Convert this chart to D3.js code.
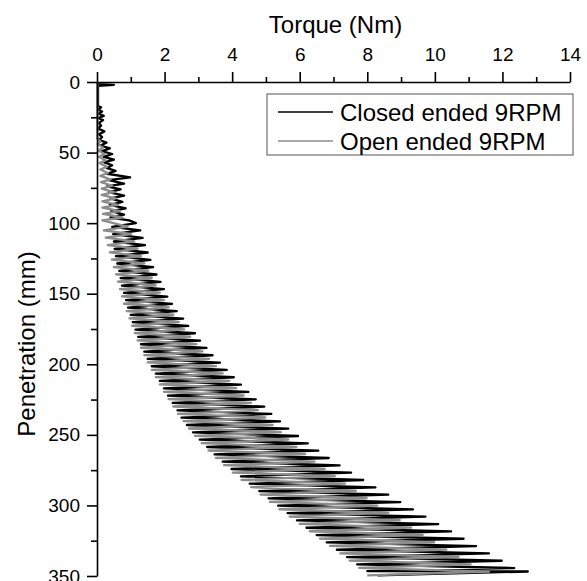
<!DOCTYPE html>
<html>
<head>
<meta charset="utf-8">
<script src="https://cdnjs.cloudflare.com/ajax/libs/d3/7.8.5/d3.min.js"></script>
<style>
  body { margin: 0; background: #fff; }
  svg text { font-family: "Liberation Sans", Arial, sans-serif; fill: #000; }
</style>
</head>
<body>
<div id="chart"></div>
<script>
// [penetration (mm), torque (Nm)]
const closedPts = [
  [0,0.02],[1.5,0.02],[2,0.5],[2.8,0.03],[17,0.03],[18,0.12],[19.5,0.03],[21,0.15],[22.5,0.05],[24,0.2],
  [25.5,0.04],[27,0.18],[29,0.06],[31,0.12],[33,0.03],[35,0.22],[37,0.06],[39,0.15],[41,0.05],[43,0.28],
  [45,0.1],[47,0.38],[49,0.15],[51,0.45],[53,0.2],[55,0.5],[57,0.22],[59,0.45],[61,0.3],[63,0.55],
  [65,0.3],[67.5,0.98],[69.5,0.35],[72,0.8],[74,0.3],[76,0.7],[78,0.35],[80.5,0.8],[82.5,0.4],[85,0.75],
  [87,0.38],[89.5,0.85],[91.5,0.42],[94,0.8],[96,0.4],[98,0.95],
  [100.0,1.15],[102.6,0.45],[105.2,1.28],[107.8,0.48],[110.4,1.35],[113.0,0.5],[115.6,1.42],[118.2,0.52],
  [120.8,1.5],[123.4,0.56],[126.0,1.58],[128.6,0.6],[131.2,1.66],[133.8,0.66],[136.4,1.76],[139.0,0.7],
  [141.6,1.88],[144.2,0.74],[146.8,1.98],[149.4,0.8],[152.0,2.08],[154.6,0.86],[157.2,2.22],[159.8,0.92],
  [162.4,2.36],[165.0,1.0],[167.6,2.55],[170.2,1.06],[172.8,2.7],[175.4,1.14],[178.0,2.9],[180.6,1.22],
  [183.2,3.05],[185.8,1.3],[188.4,3.24],[191.0,1.4],[193.6,3.42],[196.2,1.5],[198.8,3.64],[201.4,1.62],
  [204.0,3.84],[206.6,1.74],[209.2,4.05],[211.8,1.86],[214.4,4.26],[217.0,1.98],[219.6,4.48],[222.2,2.1],
  [224.8,4.7],[227.4,2.24],[230.0,4.95],[232.6,2.38],[235.2,5.16],[237.8,2.5],[240.4,5.42],[243.0,2.66],
  [245.6,5.66],[248.2,2.84],[250.8,5.95],[253.4,3.04],[256.0,6.24],[258.6,3.26],[261.2,6.55],[263.8,3.48],
  [266.4,6.86],[269.0,3.72],[271.6,7.18],[274.2,3.98],[276.8,7.52],[279.4,4.26],[282.0,7.88],[284.6,4.52],
  [287.2,8.24],[289.8,4.8],[292.4,8.62],[295.0,5.08],[297.6,8.98],[300.2,5.36],[302.8,9.35],[305.4,5.64],
  [308.0,9.72],[310.6,5.92],[313.2,10.1],[315.8,6.2],[318.4,10.48],[321.0,6.5],[323.6,10.85],[326.2,6.8],
  [328.8,11.22],[331.4,7.1],[334.0,11.6],[336.6,7.4],[339.2,11.98],[341.8,7.7],[344.4,12.35],[346.5,8.0],
  [346.8,12.75],[349.5,8.3]
];

const openPts = [
  [0,0.01],[40,0.01],[42,0.1],[44,0.02],[46.5,0.18],[48.5,0.04],[51,0.22],[53,0.06],[55.5,0.25],[57.5,0.08],
  [60,0.3],[62,0.1],[64.5,0.32],[66.5,0.1],[69,0.4],[71,0.12],[73.5,0.45],[75.5,0.14],[78,0.5],[80,0.14],
  [82.5,0.55],[84.5,0.16],[87,0.62],[89,0.16],[91.5,0.68],[93.5,0.18],[96,0.75],[98,0.16],
  [102.5,0.9],[105.1,0.2],[107.7,1.0],[110.3,0.26],[112.9,1.1],[115.5,0.32],[118.1,1.2],[120.7,0.38],
  [123.3,1.3],[125.9,0.44],[128.5,1.4],[131.1,0.5],[133.7,1.52],[136.3,0.56],[138.9,1.62],[141.5,0.62],
  [144.1,1.74],[146.7,0.68],[149.3,1.86],[151.9,0.74],[154.5,1.98],[157.1,0.8],[159.7,2.12],[162.3,0.88],
  [164.9,2.26],[167.5,0.96],[170.1,2.42],[172.7,1.04],[175.3,2.58],[177.9,1.12],[180.5,2.76],[183.1,1.2],
  [185.7,2.94],[188.3,1.3],[190.9,3.12],[193.5,1.4],[196.1,3.32],[198.7,1.5],[201.3,3.52],[203.9,1.62],
  [206.5,3.72],[209.1,1.74],[211.7,3.92],[214.3,1.86],[216.9,4.12],[219.5,1.98],[222.1,4.34],[224.7,2.12],
  [227.3,4.56],[229.9,2.26],[232.5,4.76],[235.1,2.4],[237.7,4.98],[240.3,2.56],[242.9,5.2],[245.5,2.72],
  [248.1,5.44],[250.7,2.9],[253.3,5.66],[255.9,3.1],[258.5,5.9],[261.1,3.3],[263.7,6.16],[266.3,3.52],
  [268.9,6.44],[271.5,3.76],[274.1,6.74],[276.7,4.02],[279.3,7.04],[281.9,4.28],[284.5,7.34],[287.1,4.56],
  [289.7,7.66],[292.3,4.84],[294.9,7.98],[297.5,5.12],[300.1,8.3],[302.7,5.4],[305.3,8.62],[307.9,5.7],
  [310.5,8.96],[313.1,6.0],[315.7,9.3],[318.3,6.3],[320.9,9.64],[323.5,6.6],[326.1,9.98],[328.7,6.9],
  [331.3,10.34],[333.9,7.2],[336.5,10.7],[339.1,7.48],[341.7,11.06],[344.3,7.76],[346.9,11.6],[349.5,8.0]
];

const xMajor = [0, 2, 4, 6, 8, 10, 12, 14];
const xMinor = [1, 3, 5, 7, 9, 11, 13];
const yMajor = [0, 50, 100, 150, 200, 250, 300, 350];
const yMinor = [25, 75, 125, 175, 225, 275, 325];
const seriesNames = ["Closed ended 9RPM", "Open ended 9RPM"];
const seriesColors = ["#000000", "#8c8c8c"];

const W = 587, H = 581;
const plotLeft = 97, plotRight = 570, plotTop = 82, plotBottom = 576;

const svg = d3.select("#chart").append("svg")
  .attr("width", W)
  .attr("height", H);

const x = d3.scaleLinear().domain([0, 14]).range([plotLeft, plotRight]);
const y = d3.scaleLinear().domain([0, 350]).range([plotTop, plotBottom]);

const line = d3.line()
  .x(d => x(d[1]))
  .y(d => y(d[0]));

// closed first, open drawn on top
[closedPts, openPts].forEach((pts, i) => {
  svg.append("path")
    .datum(pts)
    .attr("fill", "none")
    .attr("stroke", seriesColors[i])
    .attr("stroke-width", 2.3)
    .attr("stroke-linejoin", "round")
    .attr("d", line);
});

// top axis
const gx = svg.append("g").attr("transform", `translate(0,${plotTop})`);
gx.call(d3.axisTop(x).tickValues(xMajor).tickSize(10).tickSizeOuter(0).tickPadding(11).tickFormat(d3.format("d")));
gx.append("g").call(d3.axisTop(x).tickValues(xMinor).tickSize(5).tickFormat(""))
  .select(".domain").remove();
gx.selectAll("text").attr("font-size", 19).attr("fill", "#000");

// left axis
const gy = svg.append("g").attr("transform", `translate(${plotLeft},0)`);
gy.call(d3.axisLeft(y).tickValues(yMajor).tickSize(10).tickSizeOuter(0).tickPadding(7).tickFormat(d3.format("d")));
gy.append("g").call(d3.axisLeft(y).tickValues(yMinor).tickSize(6).tickFormat(""))
  .select(".domain").remove();
gy.selectAll("text").attr("font-size", 19).attr("fill", "#000");

svg.selectAll(".domain, .tick line").attr("stroke", "#000").attr("stroke-width", 1.6);

// axis titles
svg.append("text")
  .attr("x", (plotLeft + plotRight) / 2 + 2)
  .attr("y", 33)
  .attr("text-anchor", "middle")
  .attr("font-size", 24)
  .text("Torque (Nm)");

svg.append("text")
  .attr("transform", "rotate(-90)")
  .attr("x", -344)
  .attr("y", 35)
  .attr("text-anchor", "middle")
  .attr("font-size", 24)
  .text("Penetration (mm)");

// legend
const lg = svg.append("g");
lg.append("rect")
  .attr("x", 267).attr("y", 94)
  .attr("width", 306).attr("height", 61)
  .attr("fill", "#fff")
  .attr("stroke", "#555")
  .attr("stroke-width", 1);

seriesNames.forEach((name, i) => {
  const ly = 112 + i * 29;
  lg.append("line")
    .attr("x1", 278).attr("x2", 333)
    .attr("y1", ly).attr("y2", ly)
    .attr("stroke", seriesColors[i])
    .attr("stroke-width", 1.6);
  lg.append("text")
    .attr("x", 340)
    .attr("y", ly + 9)
    .attr("font-size", 24)
    .text(name);
});
</script>
</body>
</html>
